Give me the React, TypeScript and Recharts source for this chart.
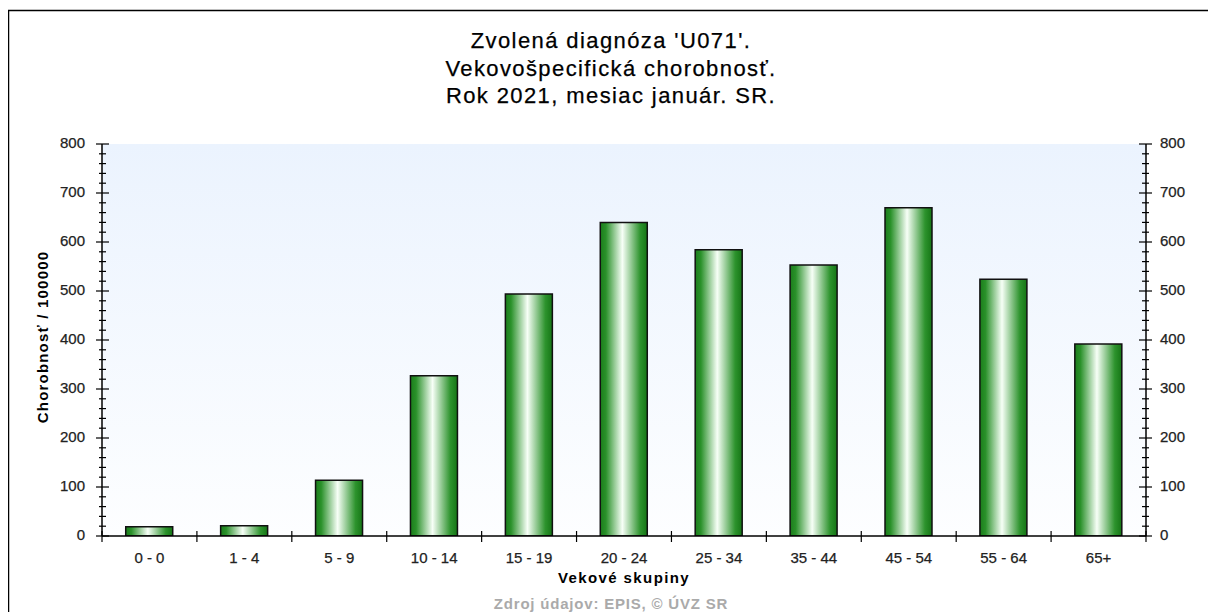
import React from "react";
import { BarChart, Bar, XAxis, YAxis, CartesianGrid } from "recharts";

const categories = ["0 - 0", "1 - 4", "5 - 9", "10 - 14", "15 - 19", "20 - 24", "25 - 34", "35 - 44", "45 - 54", "55 - 64", "65+"];
const incidence = [19, 21, 114, 327, 494, 640, 584, 553, 670, 524, 392];
const yTicks = [
  0, 20, 40, 60, 80, 100, 120, 140, 160, 180, 200, 220, 240, 260, 280, 300, 320, 340, 360, 380, 400,
  420, 440, 460, 480, 500, 520, 540, 560, 580, 600, 620, 640, 660, 680, 700, 720, 740, 760, 780, 800,
];
const titleLines = ["Zvolená diagnóza 'U071'.", "Vekovošpecifická chorobnosť.", "Rok 2021, mesiac január. SR."];
const yTitle = "Chorobnosť / 100000";
const xTitle = "Vekové skupiny";
const sourceNote = "Zdroj údajov: EPIS, © ÚVZ SR";

const data = categories.map((name, i) => ({ name, value: incidence[i] }));

const FONT = "'Liberation Sans', Arial, sans-serif";
const W = 1200;
const H = 604;
const HALF_BAND = 1044 / categories.length / 2;

const tickText = { fontSize: 15, fontFamily: FONT, fill: "#222", stroke: "#222", strokeWidth: 0.25 };

const LeftTick = ({ x, y, payload }: any) => {
  const major = payload.value % 100 === 0;
  return (
    <g>
      <line x1={x - (major ? 6 : 3)} x2={x + (major ? 7 : 4)} y1={y} y2={y} stroke="#000" strokeWidth={1.2} />
      {major && (
        <text x={x - 17} y={y + 4} textAnchor="end" {...tickText}>
          {payload.value}
        </text>
      )}
    </g>
  );
};

const RightTick = ({ x, y, payload }: any) => {
  const major = payload.value % 100 === 0;
  return (
    <g>
      <line x1={x - (major ? 7 : 4)} x2={x + (major ? 6 : 3)} y1={y} y2={y} stroke="#000" strokeWidth={1.2} />
      {major && (
        <text x={x + 14} y={y + 4} textAnchor="start" {...tickText}>
          {payload.value}
        </text>
      )}
    </g>
  );
};

const BottomTick = ({ x, y, payload, index }: any) => {
  const half = payload.offset || HALF_BAND;
  return (
    <g>
      <line x1={x - half} x2={x - half} y1={y - 5} y2={y + 6} stroke="#000" strokeWidth={1.2} />
      {index === categories.length - 1 && (
        <line x1={x + half} x2={x + half} y1={y - 5} y2={y + 6} stroke="#000" strokeWidth={1.2} />
      )}
      <text x={x} y={y + 27} textAnchor="middle" {...tickText}>
        {payload.value}
      </text>
    </g>
  );
};

const TopTick = ({ x, y, payload, index }: any) => {
  const half = payload.offset || HALF_BAND;
  if (index === 0) return <g />;
  return <line x1={x - half} x2={x - half} y1={y} y2={y + 6} stroke="#222" strokeWidth={1.2} />;
};

export default function App() {
  return (
    <div style={{ position: "relative", width: W, height: H, marginLeft: 8, marginTop: 8, fontFamily: FONT }}>
      <style>{"html,body{margin:0;padding:0;overflow:hidden}"}</style>
      <div style={{ position: "absolute", left: 0, top: 0 }}>
        <BarChart
          width={W}
          height={H}
          data={data}
          margin={{ top: 136, right: 2, bottom: 46, left: 34 }}
          barCategoryGap="25%"
        >
          <defs>
            <linearGradient id="plotBg" x1="0" y1="0" x2="0" y2="1">
              <stop offset="0%" stopColor="#ebf3fe" />
              <stop offset="100%" stopColor="#fdfeff" />
            </linearGradient>
            <linearGradient id="barFill" x1="0" y1="0" x2="1" y2="0">
              <stop offset="0%" stopColor="#1b7d1b" />
              <stop offset="12%" stopColor="#2a912a" />
              <stop offset="47%" stopColor="#f7fff7" />
              <stop offset="85%" stopColor="#2d932d" />
              <stop offset="100%" stopColor="#157515" />
            </linearGradient>
          </defs>
          <CartesianGrid xAxisId="bottom" yAxisId="left" horizontal={false} vertical={false} fill="url(#plotBg)" />
          <XAxis
            xAxisId="top"
            orientation="top"
            dataKey="name"
            height={0}
            tickSize={0}
            tickMargin={0}
            interval={0}
            tick={<TopTick />}
            axisLine={{ stroke: "#333", strokeWidth: 1.5 }}
            tickLine={false}
          />
          <XAxis
            xAxisId="bottom"
            dataKey="name"
            height={30}
            tickSize={0}
            tickMargin={0}
            interval={0}
            tick={<BottomTick />}
            axisLine={{ stroke: "#000", strokeWidth: 1.5 }}
            tickLine={false}
          />
          <YAxis
            yAxisId="left"
            width={60}
            type="number"
            domain={[0, 800]}
            allowDataOverflow
            ticks={yTicks}
            interval={0}
            tickSize={0}
            tickMargin={0}
            tick={<LeftTick />}
            axisLine={{ stroke: "#000", strokeWidth: 1.5 }}
            tickLine={false}
          />
          <YAxis
            yAxisId="right"
            orientation="right"
            width={60}
            type="number"
            domain={[0, 800]}
            allowDataOverflow
            ticks={yTicks}
            interval={0}
            tickSize={0}
            tickMargin={0}
            tick={<RightTick />}
            axisLine={{ stroke: "#000", strokeWidth: 1.5 }}
            tickLine={false}
          />
          <Bar
            xAxisId="bottom"
            yAxisId="left"
            dataKey="value"
            fill="url(#barFill)"
            stroke="#111"
            strokeWidth={1.5}
            isAnimationActive={false}
          />
        </BarChart>
      </div>
      <svg
        width={W}
        height={H}
        style={{ position: "absolute", left: 0, top: 0, pointerEvents: "none" }}
      >
        <line x1={0} x2={W} y1={2.5} y2={2.5} stroke="#000" strokeWidth={1.5} />
        <line x1={0.5} x2={0.5} y1={2} y2={H} stroke="#000" strokeWidth={1.5} />
        {titleLines.map((line, i) => (
          <text
            key={line}
            x={603}
            y={40 + i * 27.5}
            textAnchor="middle"
            fontSize={22}
            letterSpacing={1.4}
            fontFamily={FONT}
            fill="#000"
            stroke="#000"
            strokeWidth={0.25}
          >
            {line}
          </text>
        ))}
        <text
          transform="translate(40, 329) rotate(-90)"
          textAnchor="middle"
          fontSize={15}
          fontWeight="bold"
          letterSpacing={1.2}
          fontFamily={FONT}
          fill="#000"
        >
          {yTitle}
        </text>
        <text
          x={616}
          y={575}
          textAnchor="middle"
          fontSize={15}
          fontWeight="bold"
          letterSpacing={1.4}
          fontFamily={FONT}
          fill="#000"
        >
          {xTitle}
        </text>
        <text
          x={603}
          y={601}
          textAnchor="middle"
          fontSize={15}
          fontWeight="bold"
          letterSpacing={0.8}
          fontFamily={FONT}
          fill="#aaaaaa"
        >
          {sourceNote}
        </text>
      </svg>
    </div>
  );
}
